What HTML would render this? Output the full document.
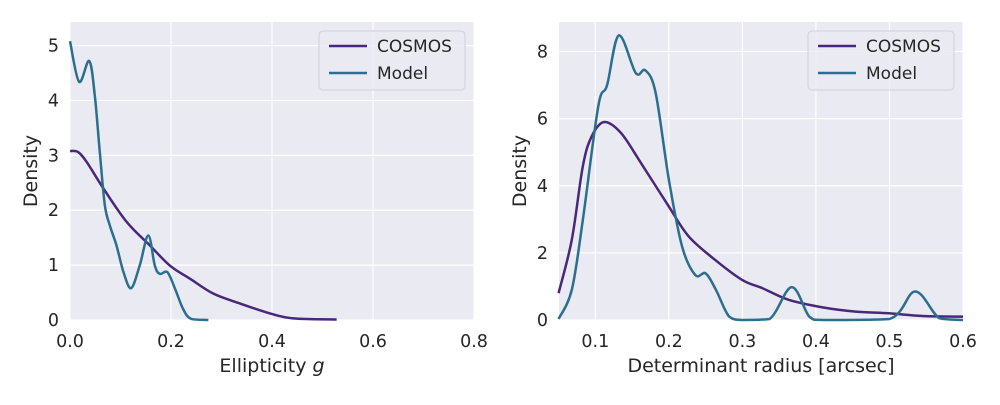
<!DOCTYPE html>
<html><head><meta charset="utf-8"><style>
body{margin:0;background:#fff;font-family:"Liberation Sans","DejaVu Sans",sans-serif}
svg text{font-family:"DejaVu Sans","Liberation Sans",sans-serif;fill:#262626}
</style></head><body>
<svg id="c" width="1000" height="400"></svg>
<script>
const leftCosmosX=[0,0.016,0.033,0.066,0.112,0.158,0.198,0.238,0.284,0.337,0.396,0.442,0.528];
const leftCosmosY=[3.08,3.06,2.88,2.4,1.79,1.36,0.99,0.75,0.48,0.3,0.12,0.03,0.01];
const leftModelX=[0,0.018,0.038,0.049,0.059,0.069,0.079,0.092,0.106,0.121,0.138,0.155,0.168,0.178,0.193,0.208,0.224,0.24,0.274];
const leftModelY=[5.08,4.34,4.72,4.1,3.06,2.09,1.72,1.36,0.87,0.58,0.99,1.54,0.99,0.84,0.87,0.57,0.2,0.02,0];
const rightCosmosX=[0.05,0.068,0.083,0.095,0.112,0.135,0.162,0.2,0.227,0.263,0.3,0.327,0.363,0.408,0.454,0.499,0.545,0.6];
const rightCosmosY=[0.8,2.39,4.58,5.47,5.9,5.57,4.68,3.38,2.49,1.79,1.19,0.95,0.6,0.38,0.25,0.2,0.12,0.1];
const rightModelX=[0.05,0.068,0.083,0.104,0.116,0.132,0.155,0.168,0.182,0.2,0.218,0.236,0.25,0.264,0.282,0.3,0.337,0.367,0.391,0.41,0.5,0.535,0.568,0.6];
const rightModelY=[0.03,0.9,2.98,6.37,7.0,8.48,7.36,7.44,6.77,4.18,2.19,1.34,1.39,0.9,0.1,0,0.03,0.98,0.1,0,0.03,0.85,0.05,0];
const leftXTicks=[0,0.2,0.4,0.6,0.8], leftYTicks=[0,1,2,3,4,5];
const rightXTicks=[0.1,0.2,0.3,0.4,0.5,0.6], rightYTicks=[0,2,4,6,8];
const NS="http://www.w3.org/2000/svg", svg=document.getElementById('c');
function el(t,a,p){const e=document.createElementNS(NS,t);for(const k in a)e.setAttribute(k,a[k]);(p||svg).appendChild(e);return e;}
function path(xs,ys,sx,sy,bot){const p=xs.map((x,i)=>[sx(x),sy(ys[i])]);let d=`M${p[0][0]},${p[0][1]}`;
const cl=v=>Math.min(v,bot);
for(let i=0;i<p.length-1;i++){const a=p[Math.max(i-1,0)],b=p[i],c=p[i+1],e=p[Math.min(i+2,p.length-1)];
d+=` C${b[0]+(c[0]-a[0])/6},${cl(b[1]+(c[1]-a[1])/6)} ${c[0]-(e[0]-b[0])/6},${cl(c[1]-(e[1]-b[1])/6)} ${c[0]},${c[1]}`;}return d;}
function panel(o){
 const sx=v=>o.x0+(v-o.xmin)/(o.xmax-o.xmin)*o.w, sy=v=>o.y0+o.h-(v-o.ymin)/(o.ymax-o.ymin)*o.h;
 const bot=o.y0+o.h;
 const g=el('g',{});
 el('rect',{x:o.x0,y:o.y0,width:o.w,height:o.h,fill:'#eaeaf2'},g);
 o.xt.forEach(t=>{el('line',{x1:sx(t),x2:sx(t),y1:o.y0,y2:o.y0+o.h,stroke:'#fff','stroke-width':1.2},g);
  const tx=el('text',{x:sx(t),y:o.y0+o.h+27,'text-anchor':'middle','font-size':17.5},g);tx.textContent=t.toFixed(1);
  });
 o.yt.forEach(t=>{el('line',{x1:o.x0,x2:o.x0+o.w,y1:sy(t),y2:sy(t),stroke:'#fff','stroke-width':1.2},g);
  const tx=el('text',{x:o.x0-11,y:sy(t)+6,'text-anchor':'end','font-size':17.5},g);tx.textContent=t;
  });
 const c1=el('path',{d:path(o.cx,o.cy,sx,sy,bot),fill:'none',stroke:'#482878','stroke-width':2.5},g);
 
 const c2=el('path',{d:path(o.mx,o.my,sx,sy,bot),fill:'none',stroke:'#2c6e8e','stroke-width':2.5},g);
 
 const xl=el('text',{x:o.x0+o.w/2,y:372,'text-anchor':'middle','font-size':19},g);xl.innerHTML=o.xl;
 
 const yl=el('text',{x:0,y:0,'text-anchor':'middle','font-size':19,transform:`translate(${o.x0-33},${o.y0+o.h/2}) rotate(-90)`},g);yl.textContent='Density';
 
 const lg=el('g',{},g);
 el('rect',{x:o.lx,y:31,width:146,height:59,rx:4,fill:'#eaeaf2','fill-opacity':0.8,stroke:'#d0d0d8'},lg);
 [['COSMOS','#482878',46],['Model','#2c6e8e',73]].forEach(([n,c,y])=>{
  el('line',{x1:o.lx+10,x2:o.lx+48,y1:y,y2:y,stroke:c,'stroke-width':2.5},lg);
  const t=el('text',{x:o.lx+58,y:y+6,'font-size':17},lg);t.textContent=n;
  });
}
panel({name:'ellipticity-panel',x0:70,y0:22,w:404,h:298,xmin:0,xmax:0.8,ymin:0,ymax:5.43,xt:leftXTicks,yt:leftYTicks,
 cx:leftCosmosX,cy:leftCosmosY,mx:leftModelX,my:leftModelY,xl:'Ellipticity <tspan font-style="italic">g</tspan>',lx:319});
panel({name:'radius-panel',x0:559,y0:22,w:404,h:298,xmin:0.0506,xmax:0.6,ymin:0,ymax:8.88,xt:rightXTicks,yt:rightYTicks,
 cx:rightCosmosX,cy:rightCosmosY,mx:rightModelX,my:rightModelY,xl:'Determinant radius [arcsec]',lx:808});
</script>
</body></html>
